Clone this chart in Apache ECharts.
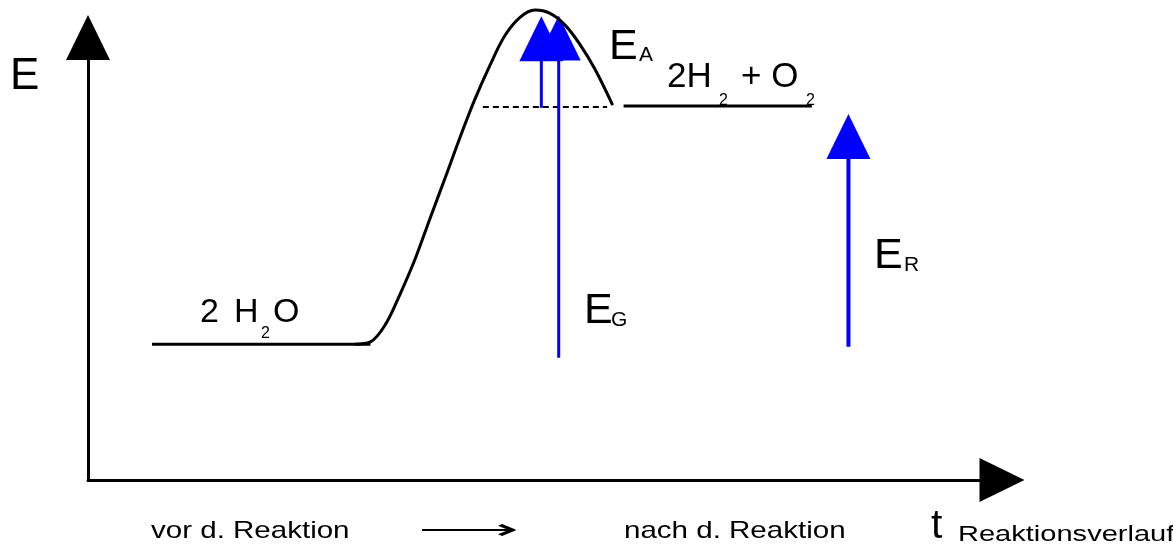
<!DOCTYPE html>
<html>
<head>
<meta charset="utf-8">
<script src="https://cdn.jsdelivr.net/npm/echarts@6/dist/echarts.min.js"></script>
<style>
  html, body { margin: 0; padding: 0; background: #fff; }
  #chart { width: 1173px; height: 546px; }
</style>
</head>
<body>
<div id="chart"></div>
<script>
// energy diagram, axes go 0..100 (reaction progress / energy)
const reactantLevel = [[7.0, 30.7], [30.9, 30.7]];
const productLevel = [[58.6, 84.5], [79.2, 84.5]];
const dashedLevel = [[43.2, 84.3], [56.8, 84.3]];
const barrierCurve = [
  [29.2, 30.7], [30.9, 31.2], [32.5, 35.0], [34.1, 41.8], [35.8, 50.0], [37.4, 59.0],
  [39.1, 68.4], [40.7, 77.4], [42.3, 85.9], [44.0, 93.8], [45.6, 100.4],
  [47.3, 104.6], [48.9, 106.2], [50.5, 105.5], [52.2, 102.8], [53.8, 98.5],
  [55.5, 92.7], [57.4, 84.7]
];
// blue arrows: x, start energy, centre of the arrow head
const arrowNames = ['EA', 'EG', 'ER'];
const arrowX = [49.6, 51.5, 83.2];
const arrowFrom = [84.1, 27.6, 30.1];
const arrowHead = [99.7, 99.9, 77.6];

const font = 'Liberation Sans, Arial, sans-serif';
const blue = '#0000ff';

const chart = echarts.init(document.getElementById('chart'));

function hiddenAxis() {
  return {
    type: 'value',
    min: 0,
    max: 100,
    axisLine: {
      show: true,
      symbol: ['none', 'triangle'],
      symbolSize: [44, 45],
      lineStyle: { color: '#000', width: 3 }
    },
    axisTick: { show: false },
    axisLabel: { show: false },
    splitLine: { show: false }
  };
}

const arrowSeries = arrowNames.map((name, i) => ({
  name: name,
  type: 'line',
  clip: false,
  z: 3,
  lineStyle: { color: blue, width: i === 2 ? 4 : 3 },
  itemStyle: { color: blue },
  data: [
    { value: [arrowX[i], arrowFrom[i]], symbol: 'none' },
    { value: [arrowX[i], arrowHead[i]], symbol: 'triangle', symbolSize: [44, 45] }
  ],
  showSymbol: true,
  silent: true
}));

function txt(x, y, text, size, extra) {
  return Object.assign({
    type: 'text',
    x: x,
    y: y,
    z: 10,
    style: {
      text: text,
      font: size + 'px ' + font,
      fill: '#000',
      verticalAlign: 'middle',
      align: 'left'
    }
  }, extra || {});
}

chart.setOption({
  animation: false,
  backgroundColor: '#fff',
  grid: { left: 88, right: 171, top: 37.5, bottom: 66 },
  xAxis: hiddenAxis(),
  yAxis: hiddenAxis(),
  series: [
    {
      type: 'line', data: reactantLevel, symbol: 'none', clip: false, z: 4,
      lineStyle: { color: '#000', width: 3 }
    },
    {
      type: 'line', data: productLevel, symbol: 'none', clip: false, z: 4,
      lineStyle: { color: '#000', width: 3 }
    },
    {
      type: 'line', data: dashedLevel, symbol: 'none', clip: false, z: 2,
      lineStyle: { color: '#000', width: 2, type: [6, 4] }
    },
    ...arrowSeries,
    {
      type: 'line', data: barrierCurve, symbol: 'none', smooth: 0.35,
      clip: false, z: 5,
      lineStyle: { color: '#000', width: 3 }
    }
  ],
  graphic: [
    txt(10, 77, 'E', 44),
    txt(609, 47.5, 'E', 43),
    txt(639, 55.5, 'A', 21),
    txt(667, 77.5, '2H', 35),
    txt(719, 101, '2', 16),
    txt(741, 77.5, '+ O', 35),
    txt(806, 101, '2', 16),
    txt(200, 312.5, '2', 34),
    txt(234, 312.5, 'H', 34),
    txt(261, 334, '2', 16),
    txt(273, 312.5, 'O', 34),
    txt(584, 311.5, 'E', 43),
    txt(611, 320.5, 'G', 21),
    txt(874, 256.5, 'E', 43),
    txt(904, 265.5, 'R', 21),
    txt(151, 531, 'vor d. Reaktion', 24, { scaleX: 1.23 }),
    txt(418, 531, '\u27F6', 30, { scaleX: 2.35 }),
    txt(624, 531, 'nach d. Reaktion', 24, { scaleX: 1.23 }),
    txt(931, 527, 't', 41),
    txt(958, 535, 'Reaktionsverlauf', 22, { scaleX: 1.32 })
  ]
});
</script>
</body>
</html>
